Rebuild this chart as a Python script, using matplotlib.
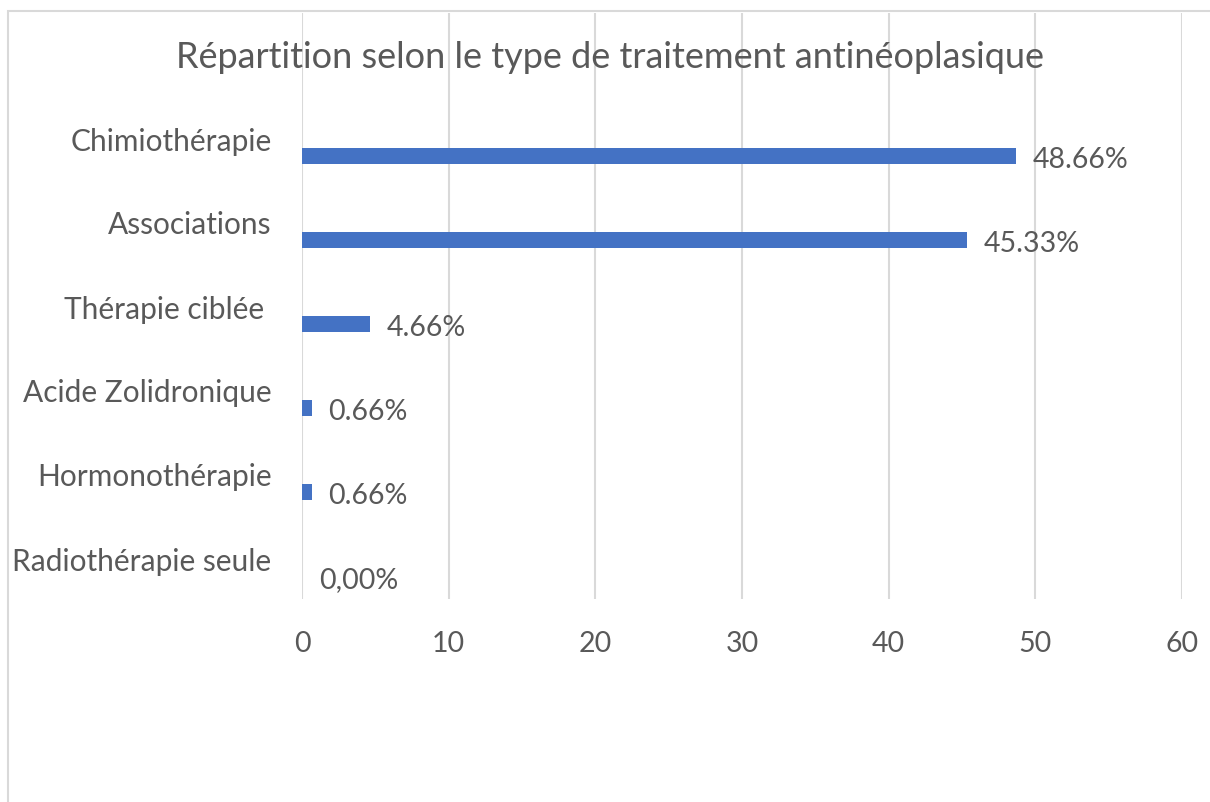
import matplotlib
matplotlib.use("Agg")
import matplotlib.pyplot as plt
from matplotlib.patches import Rectangle

categories = ["Chimiothérapie", "Associations", "Thérapie ciblée ",
              "Acide Zolidronique", "Hormonothérapie", "Radiothérapie seule"]
values = [48.66, 45.33, 4.66, 0.66, 0.66, 0.0]
value_labels = ["48.66%", "45.33%", "4.66%", "0.66%", "0.66%", "0,00%"]
x_ticks = [0, 10, 20, 30, 40, 50, 60]

title = "Répartition selon le type de traitement antinéoplasique"
text_color = "#595959"
bar_color = "#4472C4"
grid_color = "#D9D9D9"

plt.rcParams["font.family"] = ["Lato", "DejaVu Sans"]

W, H = 1210, 803
fig = plt.figure(figsize=(W / 100, H / 100), dpi=100)

# chart frame (right and bottom edges fall outside the picture)
fig.patches.append(Rectangle((8 / W, -0.1), 1.2, 1 - 12 / H + 0.1,
                             transform=fig.transFigure, fill=False,
                             edgecolor=grid_color, linewidth=1.5))

ax = fig.add_axes([302 / W, 1 - 600 / H, 880 / W, 586 / H])
pos = list(range(len(categories)))
bar_offset = 18 / 84
ax.barh([p + bar_offset for p in pos], values, height=0.2, color=bar_color)

ax.set_xlim(0, 60)
ax.set_ylim((600 - 139) / 84, (14 - 139) / 84)
ax.set_xticks(x_ticks)
ax.set_yticks(pos)
ax.set_yticklabels(categories, fontsize=21.5)
ax.tick_params(axis="both", length=0, colors=text_color)
ax.tick_params(axis="x", pad=22, labelsize=20.5)
ax.tick_params(axis="y", pad=22)
ax.grid(axis="x", color=grid_color, linewidth=1.5)
ax.set_axisbelow(True)
for s in ax.spines.values():
    s.set_visible(False)

for p, v, lab in zip(pos, values, value_labels):
    ax.annotate(lab, (v, p + bar_offset), xytext=(12, -2), textcoords="offset points",
                ha="left", va="center", fontsize=20.5, color=text_color)

fig.text(610 / W, 1 - 58 / H, title, ha="center", va="center",
         fontsize=26, color=text_color)

fig.savefig("out.png", dpi=100)
